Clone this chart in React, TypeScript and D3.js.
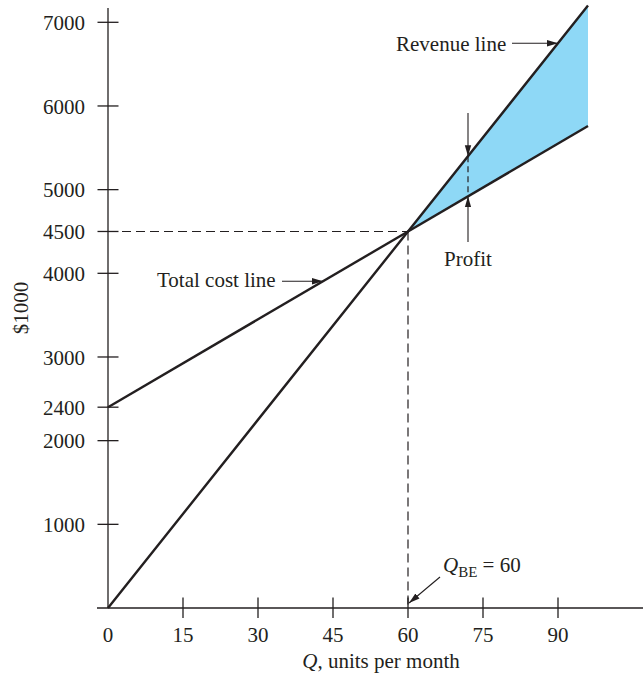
import React from "react";
import * as d3 from "d3";

// ---- data ----
const quantity = [0, 60, 96];
const revenue = [0, 4500, 7200];
const totalCost = [2400, 4500, 5760];
const xTicks = [0, 15, 30, 45, 60, 75, 90];
const yTicks = [1000, 2000, 2400, 3000, 4000, 4500, 5000, 6000, 7000];
const breakEven = { q: 60, value: 4500 };
const profitAt = { q: 72, revenue: 5400, cost: 4920 };
const revenueArrowAt = { q: 90, value: 6750 };
const costArrowAt = { q: 43, value: 3905 };

const W = 643;
const H = 673;
const FONT = "'Liberation Serif', 'Times New Roman', serif";
const FS = 21;

export default function App() {
  const x = d3.scaleLinear().domain([0, 60]).range([108, 408]);
  const y = d3.scaleLinear().domain([0, 7000]).range([608, 22.3]);

  const pts = (vals: number[]) => quantity.map((q, i) => [q, vals[i]] as [number, number]);
  const line = d3
    .line<[number, number]>()
    .x((d) => x(d[0]))
    .y((d) => y(d[1]));

  const profitIdx = [1, 2];
  const area = d3
    .area<number>()
    .x((i) => x(quantity[i]))
    .y0((i) => y(totalCost[i]))
    .y1((i) => y(revenue[i]));

  const ink = "#231f20";
  const x0 = x(0);
  const y0 = y(0);

  const bx = x(breakEven.q);
  const by = y(breakEven.value);
  const px = x(profitAt.q);
  const pyR = y(profitAt.revenue);
  const pyC = y(profitAt.cost);
  const rax = x(revenueArrowAt.q);
  const ray = y(revenueArrowAt.value);
  const cax = x(costArrowAt.q);
  const cay = y(costArrowAt.value);

  return (
    <svg
      width={W}
      height={H}
      style={{ position: "absolute", left: 0, top: 0, background: "#fff" }}
      fontFamily={FONT}
      fontSize={FS}
      fill={ink}
    >
      <defs>
        <marker
          id="arr"
          markerUnits="userSpaceOnUse"
          markerWidth={12}
          markerHeight={8}
          refX={11}
          refY={4}
          orient="auto"
        >
          <path d="M0,0.8 L11,4 L0,7.2 Z" fill={ink} />
        </marker>
      </defs>

      {/* profit area */}
      <path d={area(profitIdx) || ""} fill="#8ed8f6" stroke="none" />

      {/* dashed guides */}
      <line x1={x0} y1={by} x2={bx} y2={by} stroke={ink} strokeWidth={1.2} strokeDasharray="9,5" />
      <line x1={bx} y1={by} x2={bx} y2={y0} stroke={ink} strokeWidth={1.2} strokeDasharray="9,5" />
      <line x1={px} y1={pyR} x2={px} y2={pyC} stroke={ink} strokeWidth={1.2} strokeDasharray="6,4" />

      {/* axes */}
      <line x1={x0} y1={8} x2={x0} y2={y0} stroke={ink} strokeWidth={1.3} />
      <line x1={97} y1={y0} x2={W} y2={y0} stroke={ink} strokeWidth={1.3} />
      {yTicks.map((t) => (
        <g key={"y" + t}>
          <line x1={x0 - 10.5} x2={x0 + 10.5} y1={y(t)} y2={y(t)} stroke={ink} strokeWidth={1.3} />
          <text x={85} y={y(t)} dy="0.36em" textAnchor="end">
            {t}
          </text>
        </g>
      ))}
      {xTicks.map((t) => (
        <g key={"x" + t}>
          {t !== 0 && (
            <line x1={x(t)} x2={x(t)} y1={y0 - 10.5} y2={y0 + 10} stroke={ink} strokeWidth={1.3} />
          )}
          <text x={x(t)} y={642} textAnchor="middle">
            {t}
          </text>
        </g>
      ))}

      {/* main lines */}
      <path d={line(pts(revenue)) || ""} fill="none" stroke={ink} strokeWidth={2.4} />
      <path d={line(pts(totalCost)) || ""} fill="none" stroke={ink} strokeWidth={2.4} />

      {/* axis labels */}
      <text x={381} y={668} textAnchor="middle">
        <tspan fontStyle="italic">Q</tspan>, units per month
      </text>
      <text transform={`translate(28,308) rotate(-90)`} textAnchor="middle">
        $1000
      </text>

      {/* annotations */}
      <text x={396} y={51}>Revenue line</text>
      <line x1={512} y1={ray} x2={rax} y2={ray} stroke={ink} strokeWidth={1.1} markerEnd="url(#arr)" />

      <text x={157} y={287}>Total cost line</text>
      <line x1={282} y1={cay} x2={cax} y2={cay} stroke={ink} strokeWidth={1.1} markerEnd="url(#arr)" />

      <line x1={px} y1={113} x2={px} y2={pyR} stroke={ink} strokeWidth={1.1} markerEnd="url(#arr)" />
      <line x1={px} y1={242} x2={px} y2={pyC} stroke={ink} strokeWidth={1.1} markerEnd="url(#arr)" />
      <text x={px} y={266} textAnchor="middle">
        Profit
      </text>

      <text x={443} y={572}>
        <tspan fontStyle="italic">Q</tspan>
        <tspan fontSize={15} dy={5}>BE</tspan>
        <tspan dy={-5}> = 60</tspan>
      </text>
      <line x1={440} y1={577} x2={bx + 1} y2={y0 - 5} stroke={ink} strokeWidth={1.1} markerEnd="url(#arr)" />
    </svg>
  );
}
